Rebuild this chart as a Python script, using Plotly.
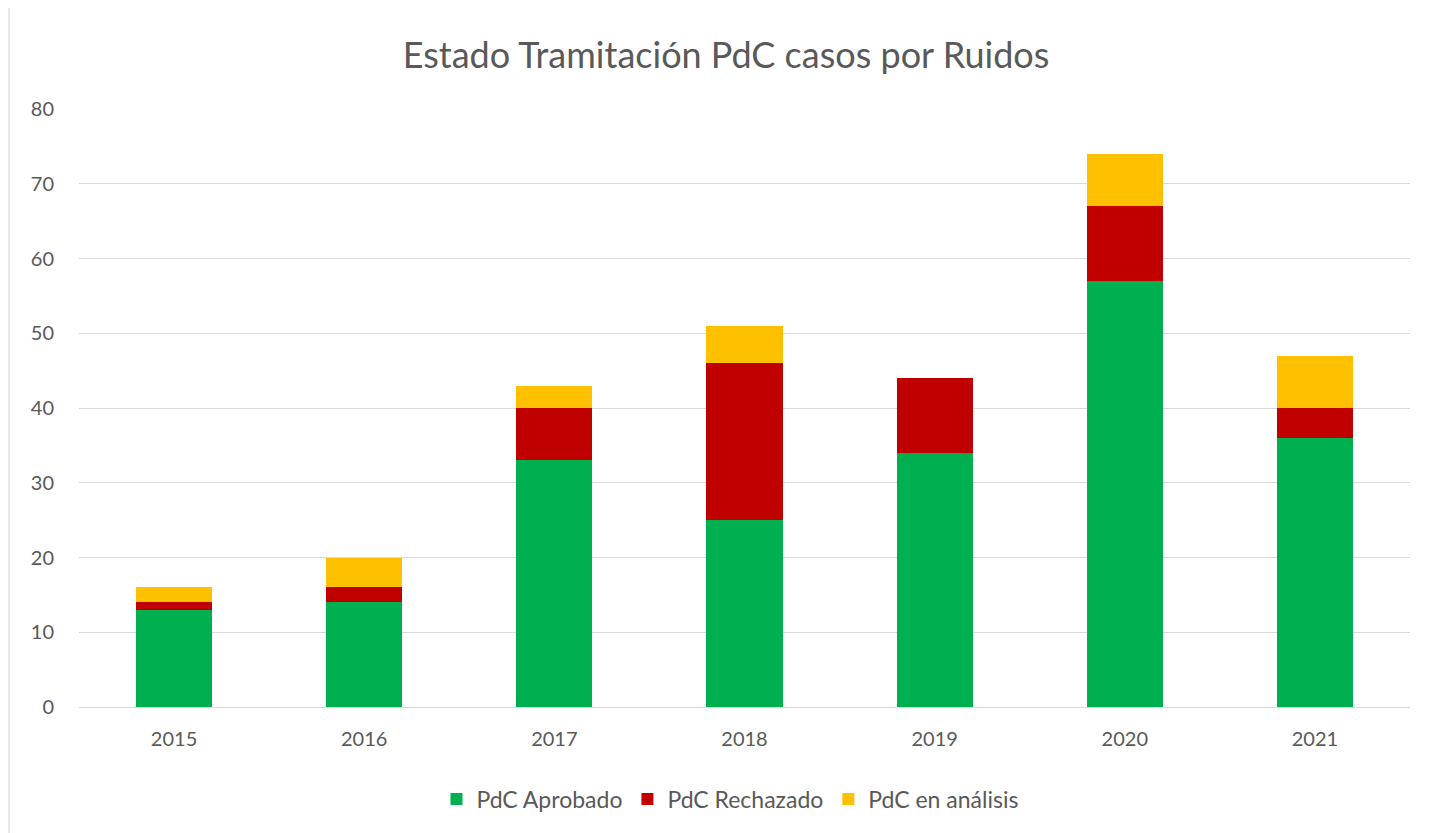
import plotly.graph_objects as go

years = ["2015", "2016", "2017", "2018", "2019", "2020", "2021"]
aprobado = [13, 14, 33, 25, 34, 57, 36]
rechazado = [1, 2, 7, 21, 10, 10, 4]
analisis = [2, 4, 3, 5, 0, 7, 7]

series = [
    ("PdC Aprobado", aprobado, "#00B050"),
    ("PdC Rechazado", rechazado, "#C00000"),
    ("PdC en análisis", analisis, "#FFC000"),
]

fig = go.Figure()
for name, vals, color in series:
    fig.add_trace(go.Bar(x=years, y=vals, name=name, marker=dict(color=color, line=dict(width=0))))

# page is offset by the body margin (8px); work in figure coordinates
OFF = 8
W, H = 1431 - OFF, 833 - OFF
L, T = 79 - OFF, 109 - OFF
PR, PB = 1410 - OFF, 707 - OFF
R, B = W - PR, H - PB
pw, ph = PR - L, PB - T

def px(x):
    return (x - OFF - L) / pw

def py(y):
    return (PB - (y - OFF)) / ph

# thin gray edge at left (what is visible of the reference's gray frame)
fig.add_shape(type="rect", xref="paper", yref="paper",
              x0=px(OFF - 1), x1=px(10), y0=py(H + 40), y1=py(-10),
              fillcolor="#E8E8E8", line=dict(width=0), layer="below")

font_family = "Lato, 'Open Sans', sans-serif"
fig.update_layout(
    width=W, height=H,
    margin=dict(l=L, r=R, t=T, b=B),
    barmode="stack",
    bargap=0.6,
    paper_bgcolor="white",
    plot_bgcolor="white",
    font=dict(family=font_family, color="#595959", size=21),
    title=dict(text="Estado Tramitación PdC casos por Ruidos", x=(726 - OFF) / W, xanchor="center",
               xref="container", y=1 - (55 - OFF) / H, yanchor="middle", yref="container",
               font=dict(size=36, color="#595959", family=font_family)),
    legend=dict(orientation="h", x=px(730), xanchor="center", y=py(799), yanchor="middle",
                font=dict(size=23, color="#595959"), traceorder="normal",
                itemwidth=30, bgcolor="rgba(0,0,0,0)"),
    xaxis=dict(showgrid=False, showline=True, linecolor="#D9D9D9", linewidth=1,
               ticks="", tickfont=dict(size=20, color="#595959"), ticklabelstandoff=14),
    yaxis=dict(range=[0, 80], dtick=10, showgrid=True, gridcolor="#D9D9D9", gridwidth=1,
               zeroline=False, showline=False, ticks="", ticklen=0,
               tickfont=dict(size=20, color="#595959"), ticklabelstandoff=24),
)

fig.write_html("out.html")
